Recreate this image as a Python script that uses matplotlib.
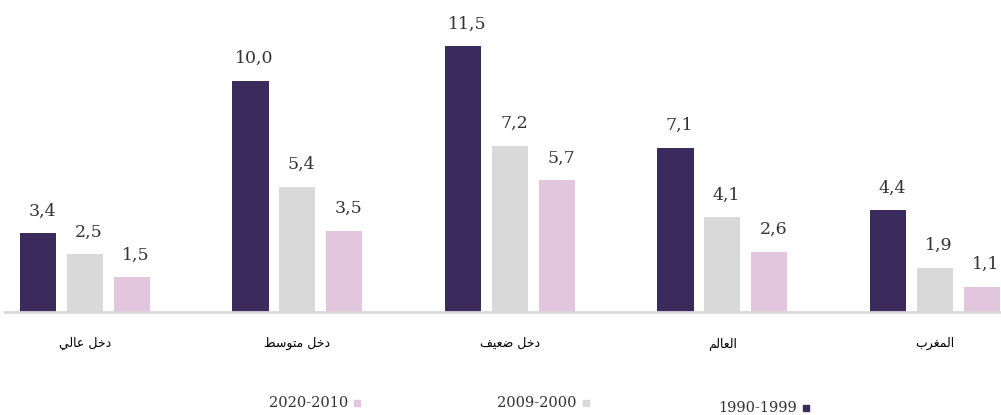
import matplotlib
matplotlib.use('Agg')
import matplotlib.pyplot as plt
from matplotlib.patches import Rectangle
import numpy as np

# data
categories = ['دخل عالي', 'دخل متوسط', 'دخل ضعيف', 'العالم', 'المغرب']
v_1990 = [3.4, 10.0, 11.5, 7.1, 4.4]
v_2000 = [2.5, 5.4, 7.2, 4.1, 1.9]
v_2010 = [1.5, 3.5, 5.7, 2.6, 1.1]
names = ['1990-1999', '2009-2000', '2020-2010']
colors = ['#3b2a5c', '#d9d9d9', '#e2c6de']

# matplotlib does no arabic shaping, so pick presentation forms by hand
FORMS = {'ا': (0xFE8D, False), 'ب': (0xFE8F, True), 'ت': (0xFE95, True),
         'خ': (0xFEA5, True), 'د': (0xFEA9, False), 'ر': (0xFEAD, False),
         'س': (0xFEB1, True), 'ض': (0xFEBD, True), 'ط': (0xFEC1, True),
         'ع': (0xFEC9, True), 'غ': (0xFECD, True), 'ف': (0xFED1, True),
         'ل': (0xFEDD, True), 'م': (0xFEE1, True), 'و': (0xFEED, False),
         'ي': (0xFEF1, True)}


def shape(text):
    out = []
    for i, c in enumerate(text):
        if c not in FORMS:
            out.append(c)
            continue
        base, dual = FORMS[c]
        prev_j = i > 0 and text[i - 1] in FORMS and FORMS[text[i - 1]][1]
        next_j = dual and i + 1 < len(text) and text[i + 1] in FORMS
        k = {(False, False): 0, (True, False): 1, (False, True): 2, (True, True): 3}[(prev_j, next_j)]
        out.append(chr(base + k))
    return ''.join(out)[::-1]


fig = plt.figure(figsize=(10.01, 4.15), dpi=100)
ax = fig.add_axes([5 / 1001, 103 / 415, 996 / 1001, 312 / 415])

x = np.arange(len(categories))
w = 0.17
step = 0.221
for k, vals in enumerate([v_1990, v_2000, v_2010]):
    bars = ax.bar(x + (k - 1) * step, vals, width=w, color=colors[k], zorder=2)
    for b, v in zip(bars, vals):
        ax.annotate(f'{v:.1f}'.replace('.', ','), (b.get_x() + b.get_width() / 2, v),
                    xytext=(3, 10), textcoords='offset points', ha='center', va='bottom',
                    fontsize=12.5, fontfamily='DejaVu Serif', color='#333333')

ax.set_xlim(-0.376, 4.311)
ax.set_ylim(0, 13.5)
ax.set_xticks(x)
ax.set_xticklabels([shape(c) for c in categories], fontfamily='DejaVu Sans', fontsize=9)
ax.tick_params(axis='x', length=0, pad=18)
ax.set_yticks([])
for s in ['top', 'right', 'left']:
    ax.spines[s].set_visible(False)
ax.spines['bottom'].set_color('#d9d9d9')
ax.spines['bottom'].set_linewidth(2)
ax.spines['bottom'].set_zorder(3)

# legend as loose texts with small squares after them
leg_x = [348, 577, 797]
leg_y = [403, 403, 408]
for name, col, lx, ly in zip(names[::-1], colors[::-1], leg_x, leg_y):
    fig.text(lx / 1001, 1 - ly / 415, name, ha='right', va='center',
             fontfamily='DejaVu Serif', fontsize=10.5, color='#333333')
    fig.add_artist(Rectangle(((lx + 6) / 1001, 1 - (ly + 3) / 415), 6 / 1001, 6 / 415,
                             transform=fig.transFigure, color=col))

fig.savefig('out.png', dpi=100)
